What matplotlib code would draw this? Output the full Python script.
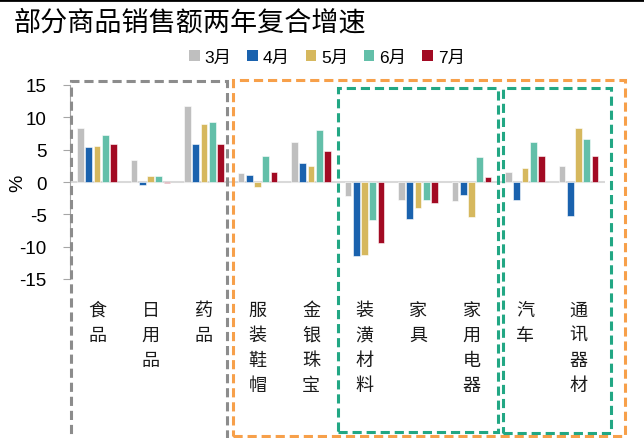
import matplotlib.pyplot as plt
import numpy as np
from matplotlib.lines import Line2D
from matplotlib.patches import Rectangle, Patch

plt.rcParams['font.family'] = ['Liberation Sans', 'Noto Sans CJK SC']

categories = ['食品', '日用品', '药品', '服装鞋帽', '金银珠宝',
              '装潢材料', '家具', '家用电器', '汽车', '通讯器材']
months = ['3月', '4月', '5月', '6月', '7月']

mar = [8.4, 3.4, 11.8, 1.4, 6.2, -2.2, -2.8, -2.9, 1.5, 2.5]
apr = [5.45, -0.5, 5.8, 1.1, 3.0, -11.5, -5.7, -2.0, -2.8, -5.3]
may = [5.6, 1.0, 9.0, -0.7, 2.5, -11.3, -4.0, -5.4, 2.2, 8.4]
jun = [7.2, 1.0, 9.3, 4.0, 8.0, -5.9, -2.8, 3.9, 6.2, 6.6]
jul = [5.9, -0.2, 5.8, 1.5, 4.8, -9.5, -3.2, 0.7, 4.0, 4.0]
series = [mar, apr, may, jun, jul]

colors = ['#BFBFBF', '#1A62AE', '#D6B85E', '#63BFA9', '#A20A23']

W, H = 644, 439
fig = plt.figure(figsize=(W / 100, H / 100), dpi=100)
ax = fig.add_axes([70.25 / W, 1 - 280 / H, 535 / W, 194 / H])

x = np.arange(len(categories))
step = 0.155
for k, (vals, c) in enumerate(zip(series, colors)):
    ax.bar(x + (k - 2) * step, vals, width=0.125, color=c,
           edgecolor='white', linewidth=0.4, zorder=3)

ax.axhline(0, color='#D9D9D9', lw=1.5, zorder=2)
ax.set_xlim(-0.5, len(categories) - 0.5)
ax.set_ylim(-15, 15)
ax.set_yticks([15, 10, 5, 0, -5, -10, -15])
ax.set_yticklabels(['15', '10', '5', '0', '-5', '-10', '-15'], fontsize=13.5)
ax.set_xticks([])
for s in ['top', 'right', 'bottom']:
    ax.spines[s].set_visible(False)
ax.spines['left'].set_color('#A6A6A6')
ax.tick_params(axis='y', direction='out', length=5, color='#A6A6A6', pad=12)
ax.set_ylabel('%', fontsize=14)
ax.yaxis.set_label_coords(-44 / 535, 0.5)

# vertical category labels, one character per line
for i, name in enumerate(categories):
    xf = (70.25 + 53.5 * (i + 0.5)) / W
    for j, ch in enumerate(name):
        fig.text(xf, 1 - (311 + 25 * j) / H, ch, ha='center', va='center',
                 fontsize=13, family='Noto Sans CJK SC', color='#1a1a1a')

# dashed group boxes
def box(x0, y0, x1, y1, color):
    r = Rectangle((x0 / W, 1 - y1 / H), (x1 - x0) / W, (y1 - y0) / H,
                  transform=fig.transFigure, fill=False, edgecolor=color,
                  lw=2.2, linestyle=(0, (3, 1.6)), zorder=5)
    fig.add_artist(r)

box(71, 82, 227, 445, '#8C8C8C')
box(233, 81, 625, 437, '#F7A04A')
box(338, 89, 498, 433, '#22A784')
box(503, 89, 611, 434, '#22A784')

fig.add_artist(Line2D([0, 1], [1 - 1 / H, 1 - 1 / H], transform=fig.transFigure,
                      color='black', lw=2))

fig.text(14 / W, 1 - 23 / H, '部分商品销售额两年复合增速', fontsize=19.5,
         family='Noto Sans CJK SC', va='center', ha='left')

handles = [Patch(facecolor=c, edgecolor='none') for c in colors]
fig.legend(handles, months, loc='center', bbox_to_anchor=(327 / W, 1 - 58 / H),
           ncol=5, frameon=False, fontsize=12.5, handlelength=0.6,
           handleheight=0.6, handletextpad=0.3, columnspacing=0.9)

fig.savefig('out.png', dpi=100)
